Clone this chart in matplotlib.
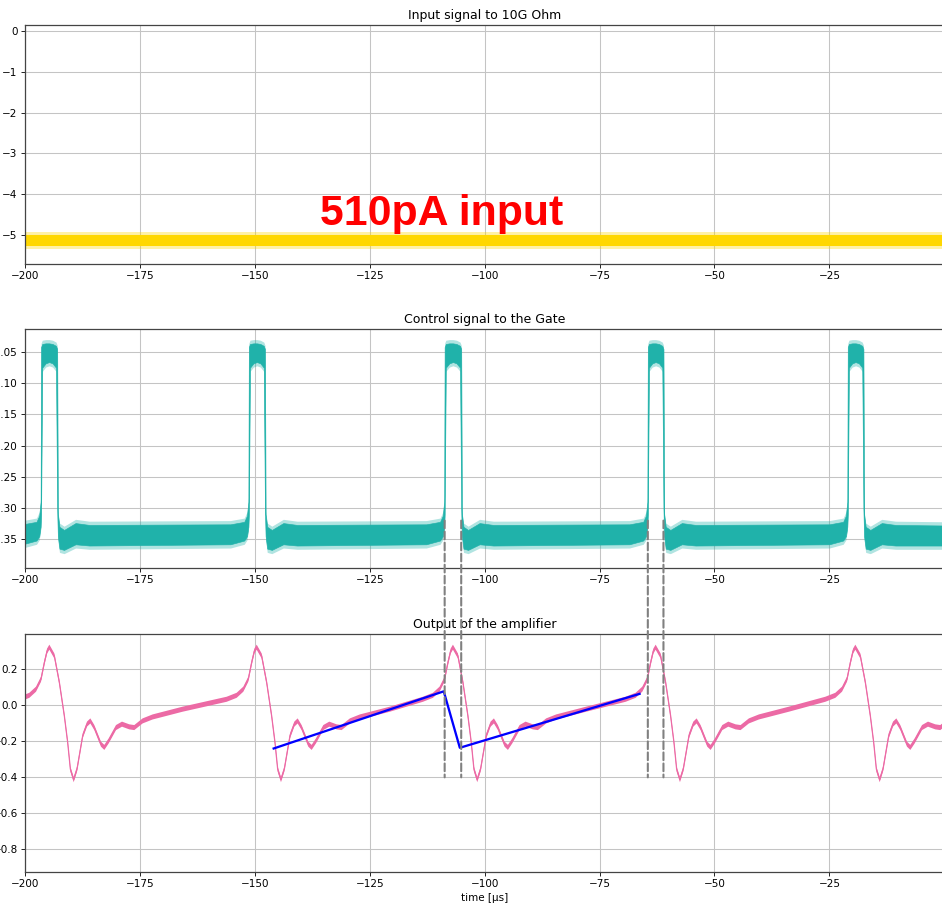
import matplotlib.pyplot as plt
import numpy as np
from matplotlib.patches import ConnectionPatch

# input current level (V across 10G), band of the scope trace
input_core = (-5.00, -5.29)
input_spread = (-4.93, -5.36)

# gate pulses: rising and falling edges [us]
gate_rise = [-196.5, -151.3, -108.7, -64.5, -21.0]
gate_fall = [-193.0, -147.8, -105.1, -61.1, -17.6]
# envelope around each pulse: offsets from the edges and upper/lower levels
gate_pre_dt = [-4.0, -1.0, -0.4, -0.1, 0.0]
gate_pre_up = [-0.326, -0.322, -0.312, -0.290, -0.042]
gate_pre_lo = [-0.358, -0.352, -0.345, -0.330, -0.310]
gate_top_up = [-0.037, -0.036, -0.036, -0.037, -0.040]
gate_top_lo = [-0.075, -0.068, -0.066, -0.068, -0.075]
gate_post_dt = [0.0, 0.15, 0.5, 1.5, 4.0, 7.0]
gate_post_up = [-0.045, -0.310, -0.330, -0.335, -0.324, -0.327]
gate_post_lo = [-0.300, -0.345, -0.365, -0.367, -0.358, -0.360]
# baseline after the last pulse
gate_tail_t = [1.0]
gate_tail_up = [-0.328]
gate_tail_lo = [-0.360]

# amplifier output: peak times and the shape around each peak
amp_peaks = [-194.7, -149.6, -106.9, -62.8, -19.35]
amp_dt = [-6.53, -4.35, -2.9, -1.82, -1.09, -0.5, 0.0, 1.09, 2.18, 3.26, 3.99,
          4.57, 5.29, 6.02, 7.25, 8.19, 8.92, 9.78, 11.23, 11.96, 12.9, 14.5,
          15.8, 17.39, 18.48, 20.29, 22.47, 25.36, 28.99]
amp_v = [0.033, 0.055, 0.089, 0.144, 0.236, 0.300, 0.322, 0.273, 0.126, -0.059,
         -0.207, -0.354, -0.413, -0.354, -0.170, -0.105, -0.087, -0.124, -0.216,
         -0.234, -0.198, -0.124, -0.105, -0.120, -0.124, -0.087, -0.065, -0.046,
         -0.022]

# ramp fit drawn over the output
fit_t = [-145.9, -108.9, -105.4, -66.3]
fit_v = [-0.240, 0.077, -0.236, 0.063]

# gate edges marked across the two lower panels
edge_marks = [-108.7, -105.1, -64.5, -61.1]

fig = plt.figure(figsize=(942/75, 912/75), dpi=75)
left, width = 25/942, 919.3/942
ax1 = fig.add_axes([left, 1-264/912, width, 239/912])
ax2 = fig.add_axes([left, 1-568/912, width, 239/912])
ax3 = fig.add_axes([left, 1-872/912, width, 238/912])

# top panel
ax1.axhspan(input_spread[1], input_spread[0], color='gold', alpha=0.35, lw=0)
ax1.axhspan(input_core[1], input_core[0], color='gold', lw=0)
ax1.set_ylim(-5.72, 0.15)
ax1.set_title('Input signal to 10G Ohm')
ax1.text(-135.8, -4.75, '510pA input', color='red', fontsize=41,
         fontweight='bold', family='Liberation Sans')

# gate panel
gt, gu, gl = [], [], []
for r, f in zip(gate_rise, gate_fall):
    gt += [r + d for d in gate_pre_dt]
    gu += gate_pre_up
    gl += gate_pre_lo
    top_t = np.linspace(r + 0.25, f - 0.25, len(gate_top_up))
    gt += list(top_t)
    gu += gate_top_up
    gl += gate_top_lo
    gt += [f + d for d in gate_post_dt]
    gu += gate_post_up
    gl += gate_post_lo
gt += gate_tail_t
gu += gate_tail_up
gl += gate_tail_lo
gt, gu, gl = np.array(gt), np.array(gu), np.array(gl)
ax2.fill_between(gt, gl - 0.006, gu + 0.006, color='lightseagreen', alpha=0.35, lw=0)
ax2.fill_between(gt, gl, gu, color='lightseagreen', lw=0.6)
ax2.set_ylim(-0.396, -0.013)
ax2.set_title('Control signal to the Gate')

# output panel
at = np.concatenate([p + np.array(amp_dt) for p in amp_peaks])
av = np.tile(amp_v, len(amp_peaks))
color = '#ec6aa5'
ax3.fill_between(at, av - 0.014, av + 0.014, color=color, lw=0)
ax3.plot(at, av, color=color, lw=1.2)
ax3.plot(fit_t, fit_v, color='blue', lw=2.2)
ax3.set_ylim(-0.925, 0.395)
ax3.set_title('Output of the amplifier')
ax3.set_xlabel('time [µs]')

for ax in (ax1, ax2, ax3):
    ax.set_xlim(-200, 0)
    ax.grid(True, color='#c4c4c4', lw=1.0)
    ax.set_axisbelow(True)
    for s in ax.spines.values():
        s.set_color('#444444')
        s.set_linewidth(1.2)

for x in edge_marks:
    con = ConnectionPatch(xyA=(x, -0.32), coordsA=ax2.transData,
                          xyB=(x, -0.40), coordsB=ax3.transData,
                          color='gray', ls='--', lw=2)
    fig.add_artist(con)

plt.savefig('out.png', dpi=75)
